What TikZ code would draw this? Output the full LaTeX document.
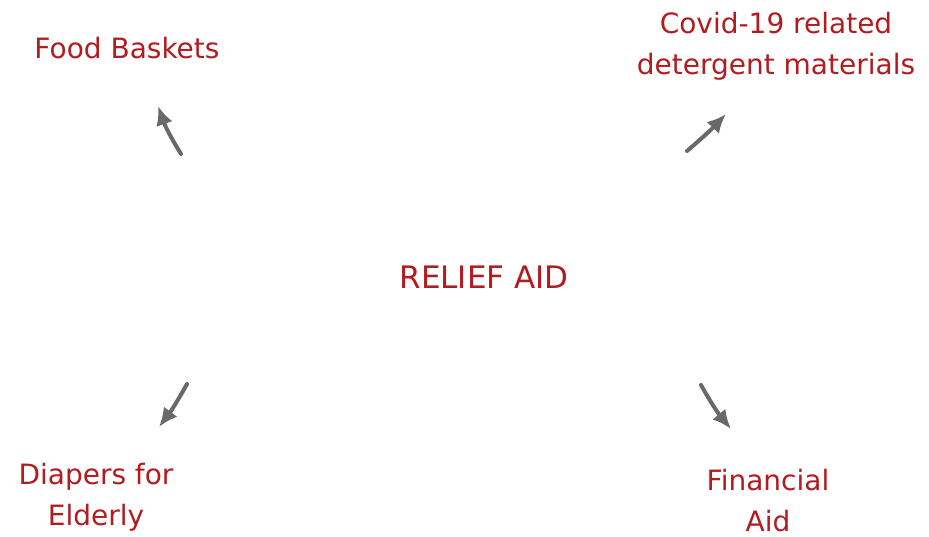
\documentclass[tikz,border=0pt]{standalone}
\usepackage{fontspec}
\setmainfont{DejaVu Sans}
\usetikzlibrary{arrows.meta,positioning}
\definecolor{aidred}{RGB}{178,28,32}
\definecolor{arrgray}{RGB}{105,105,105}

\begin{document}
\begin{tikzpicture}[
  x=1pt, y=-1pt,
  lbl/.style={text=aidred, align=center, font=\fontsize{28}{41}\selectfont, inner sep=0pt},
  arr/.style={-{Latex[length=19pt,width=17pt]}, arrgray, line width=4pt, line cap=round}
]
\useasboundingbox[fill=white] (0,0) rectangle (929,537);

\node[lbl, font=\fontsize{31}{41}\selectfont] (aid) at (484,277) {RELIEF AID};
\node[lbl] (food) at (127,48) {Food Baskets};
\node[lbl] (covid) at (776,46) {Covid-19 related\\detergent materials};
\node[lbl] (diap) at (96,497) {Diapers for\\Elderly};
\node[lbl] (fin) at (768,501) {Financial\\Aid};

% free arrows around the centre
\coordinate (foodS) at (181,154);
\coordinate (foodE) at (158,106);
\coordinate (covidS) at (687,151);
\coordinate (covidE) at (726,114);
\coordinate (diapS) at (187,384);
\coordinate (diapE) at (159,427);
\coordinate (finS) at (701,385);
\coordinate (finE) at (731,429);

\draw[arr] (foodS) to[bend left=6] (foodE);
\draw[arr] (covidS) to[bend right=3] (covidE);
\draw[arr] (diapS) to[bend left=4] (diapE);
\draw[arr] (finS) to[bend right=5] (finE);
\end{tikzpicture}
\end{document}
